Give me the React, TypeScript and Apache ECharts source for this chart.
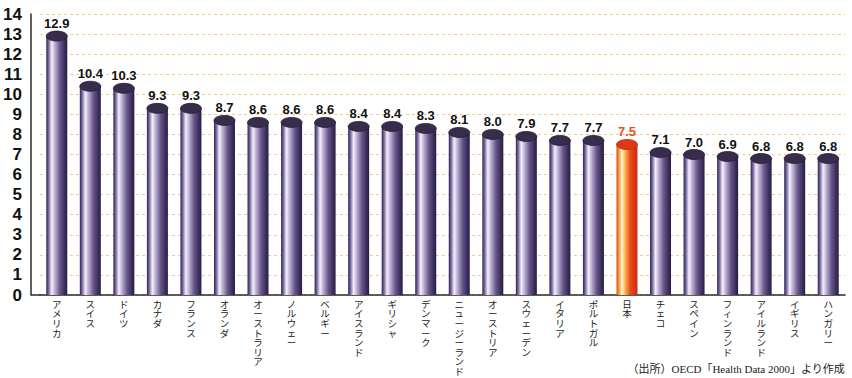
import React, { useEffect, useRef } from "react";
import * as echarts from "echarts";

// Health expenditure as a share of GDP (%), by country
const countries = [
  "アメリカ", "スイス", "ドイツ", "カナダ", "フランス", "オランダ", "オーストラリア",
  "ノルウェー", "ベルギー", "アイスランド", "ギリシャ", "デンマーク", "ニュージーランド",
  "オーストリア", "スウェーデン", "イタリア", "ポルトガル", "日本", "チェコ", "スペイン",
  "フィンランド", "アイルランド", "イギリス", "ハンガリー",
];
const shares = [
  12.9, 10.4, 10.3, 9.3, 9.3, 8.7, 8.6, 8.6, 8.6, 8.4, 8.4, 8.3, 8.1, 8.0, 7.9, 7.7,
  7.7, 7.5, 7.1, 7.0, 6.9, 6.8, 6.8, 6.8,
];
const highlighted = "日本";
const sourceNote = "（出所）OECD「Health Data 2000」より作成";

const purpleBody = {
  type: "linear", x: 0, y: 0, x2: 1, y2: 0,
  colorStops: [
    { offset: 0, color: "#2e2452" },
    { offset: 0.1, color: "#6d5f98" },
    { offset: 0.26, color: "#f4f0fa" },
    { offset: 0.42, color: "#b8acd2" },
    { offset: 0.65, color: "#675789" },
    { offset: 0.88, color: "#3a2d5c" },
    { offset: 1, color: "#281f42" },
  ],
};
const orangeBody = {
  type: "linear", x: 0, y: 0, x2: 1, y2: 0,
  colorStops: [
    { offset: 0, color: "#e04a16" },
    { offset: 0.12, color: "#f39a3a" },
    { offset: 0.26, color: "#fff6cf" },
    { offset: 0.42, color: "#f8b24a" },
    { offset: 0.65, color: "#ea4a1c" },
    { offset: 1, color: "#cc2a10" },
  ],
};

export default function App() {
  const ref = useRef<HTMLDivElement>(null);

  useEffect(() => {
    document.body.style.margin = "0";
    if (!ref.current) return;
    const chart = echarts.init(ref.current, null, { renderer: "svg" });
    const barWidth = 21;

    chart.setOption({
      animation: false,
      backgroundColor: "#ffffff",
      grid: { left: 40, right: 7, top: 14, bottom: 83 },
      xAxis: {
        type: "category",
        data: countries,
        axisLine: { show: true, lineStyle: { color: "#2a2a2a", width: 1.5 } },
        axisTick: { show: false },
        axisLabel: {
          interval: 0,
          margin: 4,
          fontSize: 9.5,
          lineHeight: 9.6,
          color: "#222",
          verticalAlign: "top",
          fontFamily: '"Noto Sans CJK JP", sans-serif',
          formatter: (name: string) => Array.from(name).join("\n"),
        },
      },
      yAxis: {
        type: "value",
        min: 0,
        max: 14,
        interval: 1,
        offset: 9,
        axisLine: { show: true, lineStyle: { color: "#2a2a2a", width: 1.5 } },
        axisTick: { show: false },
        axisLabel: {
          margin: 9,
          fontSize: 17,
          fontWeight: "bold",
          color: "#111",
          fontFamily: '"Liberation Sans", Arial, sans-serif',
        },
        splitLine: {
          show: true,
          lineStyle: { color: "#f7cc94", width: 1, type: [3, 3] },
        },
      },
      series: [
        {
          type: "custom",
          data: shares.map((v, i) => [i, v]),
          renderItem: (params: any, api: any) => {
            const i = api.value(0);
            const v = api.value(1);
            const top = api.coord([i, v]);
            const base = api.coord([i, 0]);
            const isHi = countries[i] === highlighted;
            const x = top[0] - barWidth / 2;
            return {
              type: "group",
              children: [
                {
                  type: "rect",
                  shape: { x, y: top[1], width: barWidth, height: base[1] - top[1] },
                  style: { fill: isHi ? orangeBody : purpleBody },
                },
                {
                  type: "ellipse",
                  shape: { cx: top[0], cy: top[1], rx: barWidth / 2, ry: 5 },
                  style: {
                    fill: isHi ? "#d9381a" : "#372c4c",
                    stroke: isHi ? "#c42a10" : "#261f34",
                    lineWidth: 0.8,
                  },
                },
                {
                  type: "text",
                  x: top[0],
                  y: top[1] - 6,
                  style: {
                    text: v.toFixed(1),
                    align: "center",
                    verticalAlign: "bottom",
                    fill: isHi ? "#e2512a" : "#111",
                    font: 'bold 13px "Liberation Sans", Arial, sans-serif',
                  },
                },
              ],
            };
          },
        },
      ],
      graphic: [
        {
          type: "line",
          shape: { x1: 31, y1: 295, x2: 41, y2: 295 },
          style: { stroke: "#2a2a2a", lineWidth: 1.5 },
        },
        {
          type: "text",
          right: 7,
          bottom: 4,
          style: {
            text: sourceNote,
            fill: "#222",
            font: '11px "Liberation Serif", "Noto Sans CJK JP", serif',
          },
        },
      ],
    });

    return () => chart.dispose();
  }, []);

  return <div ref={ref} style={{ width: 852, height: 378 }} />;
}
